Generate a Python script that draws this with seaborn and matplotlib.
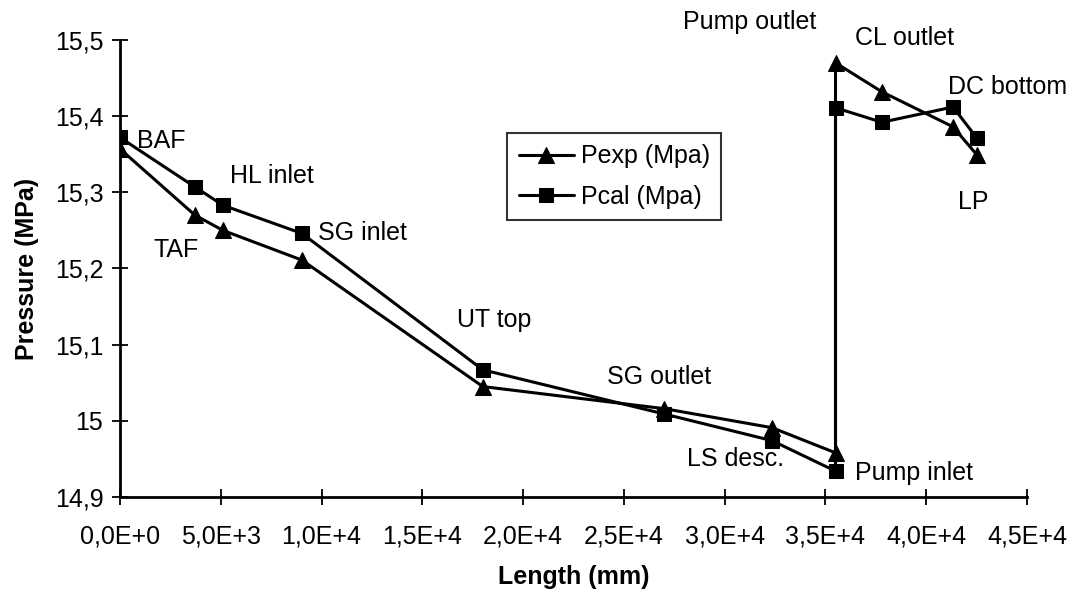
import numpy as np
import pandas as pd
import matplotlib
matplotlib.use("Agg")
import matplotlib.pyplot as plt
import seaborn as sns

# Data (length in mm, pressure in MPa)
length = [0, 3720, 5110, 9030, 18000, 27000, 32350, 35500, 35500, 37800, 41330, 42520]
p_exp = [15.357, 15.270, 15.250, 15.211, 15.045, 15.016, 14.991, 14.958, 15.470, 15.432, 15.386, 15.349]
p_cal = [15.372, 15.307, 15.283, 15.246, 15.067, 15.009, 14.974, 14.934, 15.411, 15.392, 15.412, 15.371]

# Point labels and where they sit (data coords)
point_labels = ["BAF", "TAF", "HL inlet", "SG inlet", "UT top", "SG outlet", "LS desc.",
                "Pump inlet", "Pump outlet", "CL outlet", "DC bottom", "LP"]
label_x = [850, 1640, 5460, 9820, 16720, 24160, 28130, 36470, 27930, 36470, 41080, 41580]
label_y = [15.368, 15.224, 15.322, 15.246, 15.132, 15.057, 14.950, 14.932, 15.524, 15.503, 15.438, 15.287]

x_ticks = [0, 5000, 10000, 15000, 20000, 25000, 30000, 35000, 40000, 45000]
x_ticklabels = ["0,0E+0", "5,0E+3", "1,0E+4", "1,5E+4", "2,0E+4", "2,5E+4", "3,0E+4",
                "3,5E+4", "4,0E+4", "4,5E+4"]
y_ticks = [14.9, 15.0, 15.1, 15.2, 15.3, 15.4, 15.5]
y_ticklabels = ["14,9", "15", "15,1", "15,2", "15,3", "15,4", "15,5"]

df = pd.DataFrame({"length": length, "Pexp": p_exp, "Pcal": p_cal})

sns.set_style("white")
plt.rcParams["font.family"] = ["Liberation Sans", "DejaVu Sans"]
plt.rcParams.update({"text.color": "black", "axes.labelcolor": "black",
                     "xtick.color": "black", "ytick.color": "black",
                     "xtick.bottom": True, "ytick.left": True})

fig = plt.figure(figsize=(10.79, 5.95), dpi=100)
ax = fig.add_axes([0.1112, 0.1647, 0.8406, 0.7681])

sns.lineplot(data=df, x="length", y="Pexp", sort=False, estimator=None, color="black",
             marker="^", markersize=12, linewidth=2.2, markeredgecolor="black",
             label="Pexp (Mpa)", ax=ax)
sns.lineplot(data=df, x="length", y="Pcal", sort=False, estimator=None, color="black",
             marker="s", markersize=10.5, linewidth=2.2, markeredgecolor="black",
             label="Pcal (Mpa)", ax=ax)

for txt, tx, ty in zip(point_labels, label_x, label_y):
    ax.text(tx, ty, txt, fontsize=18, va="center", ha="left", clip_on=False)

ax.set_xlim(0, 45000)
ax.set_ylim(14.9, 15.5)
ax.set_xticks(x_ticks)
ax.set_xticklabels(x_ticklabels, fontsize=18)
ax.set_yticks(y_ticks)
ax.set_yticklabels(y_ticklabels, fontsize=18)
ax.tick_params(axis="both", direction="inout", length=12, width=1.3)
ax.tick_params(axis="x", pad=14)
ax.tick_params(axis="y", pad=6)
ax.set_xlabel("Length (mm)", fontsize=18, fontweight="bold", labelpad=12)
ax.set_ylabel("Pressure (MPa)", fontsize=18, fontweight="bold", labelpad=11)

sns.despine(ax=ax)
for side in ["left", "bottom"]:
    ax.spines[side].set_color("black")
    ax.spines[side].set_linewidth(2)

leg = ax.legend(loc="upper left", bbox_to_anchor=(0.427, 0.796), borderaxespad=0,
                fontsize=18, frameon=True, fancybox=False, edgecolor="black",
                handlelength=2.2, handletextpad=0.3, borderpad=0.45, labelspacing=0.65)
leg.get_frame().set_linewidth(1.5)

fig.savefig("out.png", dpi=100)
